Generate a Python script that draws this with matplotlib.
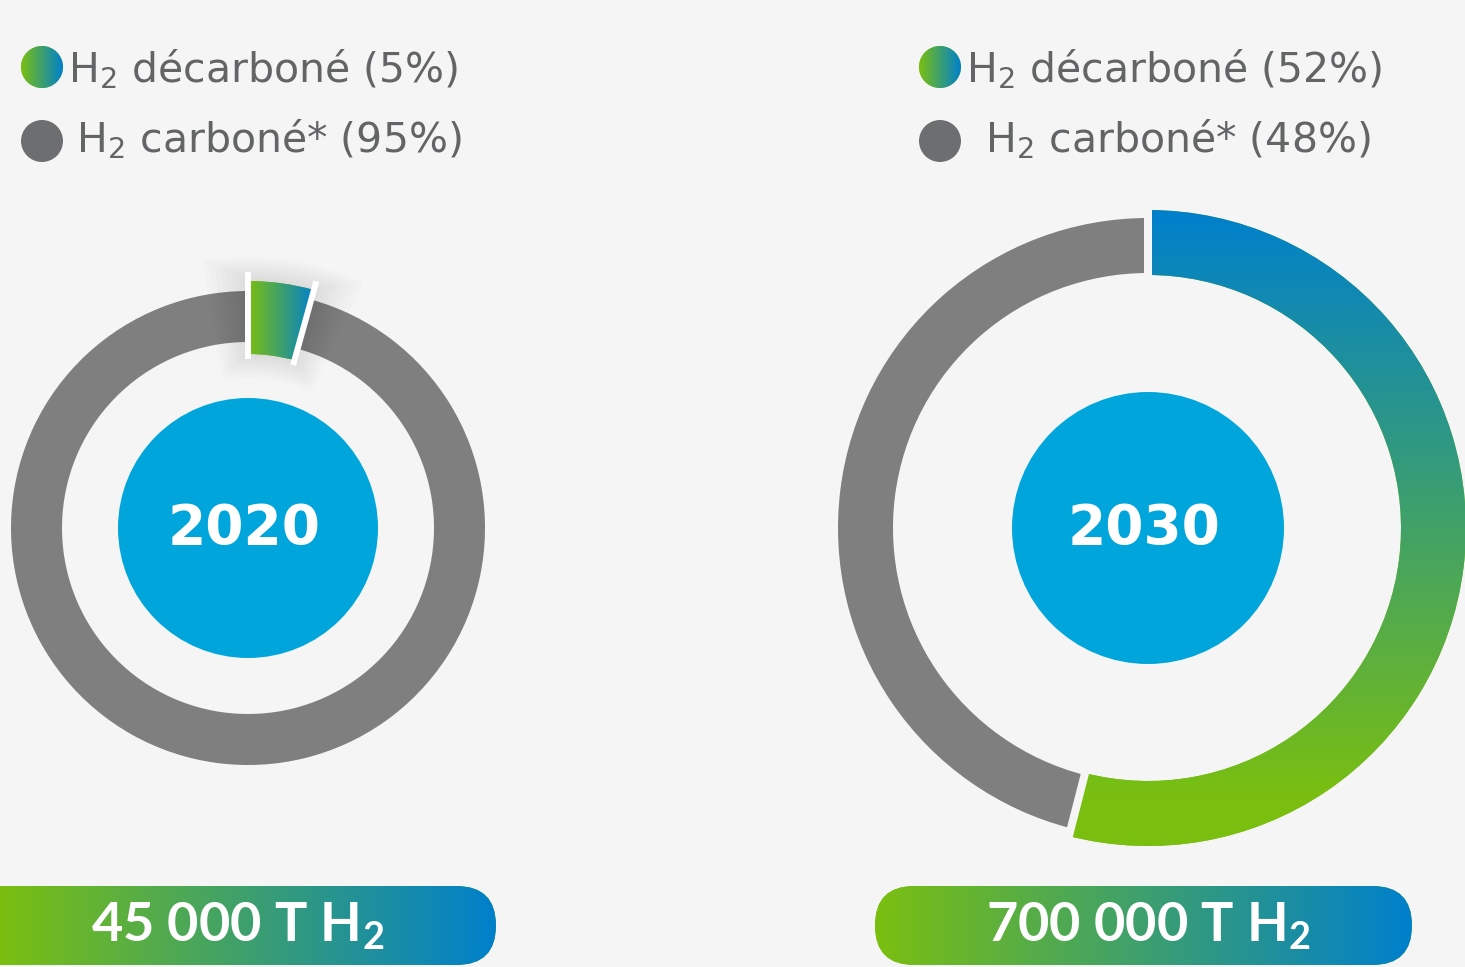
import numpy as np
import matplotlib
matplotlib.use("Agg")
import matplotlib.pyplot as plt
from matplotlib.colors import LinearSegmentedColormap
from matplotlib.patches import Wedge, Circle, FancyBboxPatch

# ---------------- data ----------------
years = ["2020", "2030"]
legend_decarb = ["H$_\\mathregular{2}$ décarboné (5%)", "H$_\\mathregular{2}$ décarboné (52%)"]
legend_carb = ["H$_\\mathregular{2}$ carboné* (95%)", "H$_\\mathregular{2}$ carboné* (48%)"]
# shares of the ring as drawn in the source graphic (decarbonated, carbonated)
share_decarb = [4.3, 54.0]
share_carb = [95.7, 46.0]
totals = ["45 000 T H$_\\mathregular{2}$", "700 000 T H$_\\mathregular{2}$"]

# ---------------- style ----------------
plt.rcParams['font.family'] = ['DejaVu Sans']
plt.rcParams['mathtext.fontset'] = 'dejavusans'

BG = '#f5f5f5'
GREY_RING = '#7f7f7f'
GREY_DOT = '#6d6e70'
TEXT_GREY = '#636466'
CORE = '#00a6db'
GREEN = '#7abf10'
BLUE = '#0080cc'
cmap = LinearSegmentedColormap.from_list('h2', [GREEN, BLUE])

W, H = 1465, 967
fig = plt.figure(figsize=(W / 100, H / 100), dpi=100, facecolor=BG)
ax = fig.add_axes([0, 0, 1, 1])
ax.set_facecolor(BG)


def Y(py):
    return H - py


def grad_fill(patch, x0, x1, y0, y1, g0, g1, vertical=False, z=3):
    """Fill the bbox [x0,x1]x[y0,y1] with a gradient running from green at
    coordinate g0 to blue at coordinate g1 (x for horizontal, y for vertical)."""
    n = 400
    if vertical:
        ys = np.linspace(y0, y1, n)
        t = np.clip((ys - g0) / (g1 - g0), 0, 1)
        arr = t[:, None] * np.ones((1, 4))
    else:
        xs = np.linspace(x0, x1, n)
        t = np.clip((xs - g0) / (g1 - g0), 0, 1)
        arr = t[None, :] * np.ones((4, 1))
    im = ax.imshow(arr, cmap=cmap, vmin=0, vmax=1, extent=[x0, x1, y0, y1],
                   origin='lower', aspect='auto', interpolation='bilinear', zorder=z)
    im.set_clip_path(patch)
    return im


# layout per donut
centers = [(248, 528), (1148, 528)]
r_out = [237, 310]
ring_w = [51, 55]
dec_out = [247, 318]
dec_in = [174, 253]
core_r = [130, 136]
sep_col = ['white', BG]
sep_lw = [6, 8]
sep_r = [(169, 256), (245, 326)]

for i in range(2):
    cx, cy = centers[i][0], Y(centers[i][1])
    wedges, _ = ax.pie([share_decarb[i], share_carb[i]], colors=[GREEN, GREY_RING],
                       startangle=90, counterclock=False, radius=r_out[i],
                       center=(cx, cy), frame=True,
                       wedgeprops=dict(width=ring_w[i], edgecolor='none', linewidth=0))
    wd = wedges[0]
    wd.set_radius(dec_out[i])
    wd.set_width(dec_out[i] - dec_in[i])
    # soft halo for the highlighted 2020 slice
    if i == 0:
        for k in range(1, 9):
            halo = Wedge((cx, cy), dec_out[i] + 3 * k, wd.theta1 - 1.2 * k, wd.theta2 + 1.2 * k,
                         width=dec_out[i] - dec_in[i] + 6 * k, facecolor='#000000',
                         alpha=0.01, edgecolor='none', zorder=1.5)
            ax.add_patch(halo)
        wd.set_zorder(2.5)
    if i == 0:
        grad_fill(wd, cx - 10, cx + 80, cy + dec_in[i] - 5, cy + dec_out[i] + 5,
                  cx, cx + 0.27 * dec_out[i], vertical=False)
    else:
        grad_fill(wd, cx - dec_out[i] - 5, cx + dec_out[i] + 5, cy - dec_out[i] - 5,
                  cy + dec_out[i] + 5, Y(800), Y(212), vertical=True)
    # separators at the slice boundaries
    for th in (wd.theta1, wd.theta2):
        a = np.deg2rad(th)
        r0, r1 = sep_r[i]
        ax.plot([cx + r0 * np.cos(a), cx + r1 * np.cos(a)],
                [cy + r0 * np.sin(a), cy + r1 * np.sin(a)],
                color=sep_col[i], lw=sep_lw[i] * 0.72, solid_capstyle='butt', zorder=4)
    # center disc and year
    ax.add_patch(Circle((cx, cy), core_r[i], facecolor=CORE, edgecolor='none', zorder=5))
    ax.text(cx - 4, cy - 1, years[i], color='white', fontsize=39.5, fontweight='bold',
            ha='center', va='center', zorder=6)

# ---------------- legends ----------------
leg_dot_x = [42, 940]
leg_text_x1 = [68, 966]
leg_text_x2 = [76, 985]
for i in range(2):
    dot = Circle((leg_dot_x[i], Y(67)), 21, facecolor=GREEN, edgecolor='none', zorder=3)
    ax.add_patch(dot)
    grad_fill(dot, leg_dot_x[i] - 22, leg_dot_x[i] + 22, Y(89), Y(45),
              leg_dot_x[i] - 21, leg_dot_x[i] + 21)
    ax.text(leg_text_x1[i], Y(70), legend_decarb[i], color=TEXT_GREY, fontsize=29.5,
            ha='left', va='center', zorder=6)
    ax.add_patch(Circle((leg_dot_x[i], Y(141)), 21, facecolor=GREY_DOT, edgecolor='none', zorder=3))
    ax.text(leg_text_x2[i], Y(140), legend_carb[i], color=TEXT_GREY, fontsize=29.5,
            ha='left', va='center', zorder=6)

# ---------------- total pills ----------------
pill_x0 = [-60, 875]
pill_x1 = [496, 1412]
pill_y0, pill_y1 = Y(965), Y(886)
for i in range(2):
    h = pill_y1 - pill_y0
    pill = FancyBboxPatch((pill_x0[i], pill_y0), pill_x1[i] - pill_x0[i], h,
                          boxstyle=f"round,pad=0,rounding_size={h / 2}",
                          facecolor=GREEN, edgecolor='none', zorder=3)
    ax.add_patch(pill)
    gx0 = max(pill_x0[i], 0)
    grad_fill(pill, pill_x0[i], pill_x1[i], pill_y0, pill_y1, gx0, pill_x1[i])
    ax.text(centers[i][0] - (10 if i == 0 else 0), Y(926), totals[i], color='white',
            fontsize=39, fontweight='bold', ha='center', va='center', zorder=6,
            family=['Lato', 'DejaVu Sans'])

ax.set_xlim(0, W)
ax.set_ylim(0, H)
ax.set_aspect('auto')
ax.axis('off')
fig.savefig('out.png', dpi=100, facecolor=BG)
